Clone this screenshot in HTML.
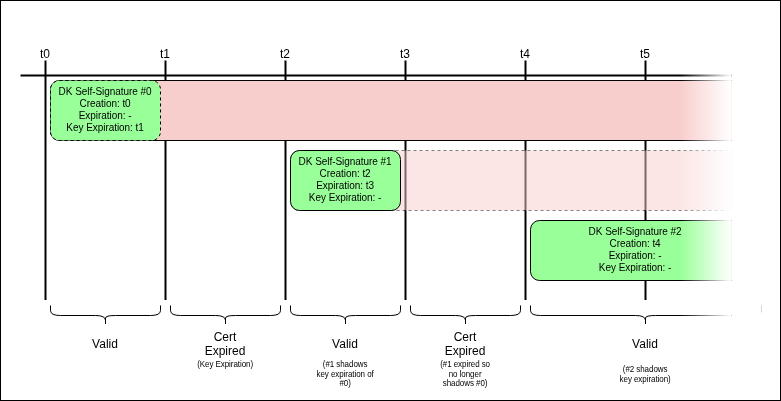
<!DOCTYPE html>
<html>
<head>
<meta charset="utf-8">
<title>DK Self-Signature timeline</title>
<style>
html,body{margin:0;padding:0;background:#fff;}
body{width:781px;height:401px;overflow:hidden;position:relative;}
svg{position:absolute;left:0;top:0;display:block;will-change:transform;}
text{font-family:"Liberation Sans",Arial,Helvetica,sans-serif;fill:#000;text-anchor:middle;}
.t12{font-size:12px;}
.t10{font-size:10px;letter-spacing:-0.05px;}
.t8{font-size:8px;letter-spacing:-0.06px;}
</style>
</head>
<body>
<svg width="781" height="401" viewBox="0 0 781 401">
<defs>
<linearGradient id="fade" x1="0" y1="0" x2="1" y2="0">
<stop offset="0" stop-color="#ffffff" stop-opacity="0"/>
<stop offset="1" stop-color="#ffffff" stop-opacity="1"/>
</linearGradient>
</defs>
<rect x="0" y="0" width="781" height="401" fill="#ffffff"/>

<!-- vertical time lines -->
<g stroke="#000" stroke-width="2" fill="none">
<path d="M45.5,60.5V300"/>
<path d="M165.5,60.5V300"/>
<path d="M285.5,60.5V300"/>
<path d="M405.5,60.5V300"/>
<path d="M525.5,60.5V300"/>
<path d="M645.5,60.5V300"/>
<path d="M20.5,75.5H760"/>
</g>

<!-- band 0 -->
<rect x="50.5" y="80.5" width="690" height="60" rx="9" ry="9" fill="#f8cecc" stroke="#000" stroke-width="1"/>
<!-- band 1 -->
<rect x="290.5" y="150.5" width="450" height="60" rx="9" ry="9" fill="#f8cecc" stroke="#000" stroke-width="1" stroke-dasharray="3 3" opacity="0.5"/>

<!-- boxes -->
<rect x="50.5" y="80.5" width="110" height="60" rx="9" ry="9" fill="#99ff99" stroke="#000" stroke-width="1" stroke-dasharray="3 3"/>
<rect x="290.5" y="150.5" width="110" height="60" rx="9" ry="9" fill="#99ff99" stroke="#000" stroke-width="1"/>
<rect x="530.5" y="220.5" width="210" height="60" rx="9" ry="9" fill="#99ff99" stroke="#000" stroke-width="1"/>

<!-- brackets -->
<g stroke="#000" stroke-width="1" fill="none">
<path d="M50.5,305.5 L50.5,310.5 Q50.5,315.5 60.5,315.5 L95.5,315.5 Q105.5,315.5 105.5,320.5 L105.5,323 Q105.5,325.5 105.5,320.5 L105.5,318 Q105.5,315.5 115.5,315.5 L150.5,315.5 Q160.5,315.5 160.5,310.5 L160.5,305.5"/>
<path d="M170.5,305.5 L170.5,310.5 Q170.5,315.5 180.5,315.5 L215.5,315.5 Q225.5,315.5 225.5,320.5 L225.5,323 Q225.5,325.5 225.5,320.5 L225.5,318 Q225.5,315.5 235.5,315.5 L270.5,315.5 Q280.5,315.5 280.5,310.5 L280.5,305.5"/>
<path d="M290.5,305.5 L290.5,310.5 Q290.5,315.5 300.5,315.5 L335.5,315.5 Q345.5,315.5 345.5,320.5 L345.5,323 Q345.5,325.5 345.5,320.5 L345.5,318 Q345.5,315.5 355.5,315.5 L390.5,315.5 Q400.5,315.5 400.5,310.5 L400.5,305.5"/>
<path d="M410.5,305.5 L410.5,310.5 Q410.5,315.5 420.5,315.5 L455.5,315.5 Q465.5,315.5 465.5,320.5 L465.5,323 Q465.5,325.5 465.5,320.5 L465.5,318 Q465.5,315.5 475.5,315.5 L510.5,315.5 Q520.5,315.5 520.5,310.5 L520.5,305.5"/>
<path d="M530.5,305.5 L530.5,310.5 Q530.5,315.5 540.5,315.5 L635.5,315.5 Q645.5,315.5 645.5,320.5 L645.5,323 Q645.5,325.5 645.5,320.5 L645.5,318 Q645.5,315.5 655.5,315.5 L750.5,315.5 Q760.5,315.5 760.5,310.5 L760.5,305.5"/>
</g>

<!-- box text -->
<g class="t10">
<text x="105.1" y="94.5">DK Self-Signature #0</text>
<text x="105.1" y="106.5">Creation: t0</text>
<text x="105.1" y="118.5">Expiration: -</text>
<text x="105.1" y="130.5">Key Expiration: t1</text>

<text x="345.1" y="164.5">DK Self-Signature #1</text>
<text x="345.1" y="176.5">Creation: t2</text>
<text x="345.1" y="188.5">Expiration: t3</text>
<text x="345.1" y="200.5">Key Expiration: -</text>

<text x="635.1" y="234.5">DK Self-Signature #2</text>
<text x="635.1" y="246.5">Creation: t4</text>
<text x="635.1" y="258.5">Expiration: -</text>
<text x="635.1" y="270.5">Key Expiration: -</text>
</g>

<!-- fade overlay -->
<rect x="680" y="40" width="51" height="300" fill="url(#fade)"/>
<rect x="731.25" y="40" width="30.75" height="300" fill="#ffffff"/>
<rect x="761" y="305.5" width="1" height="7" fill="#d6d6d6"/>

<!-- time labels -->
<g class="t12">
<text x="44.9" y="57.6">t0</text>
<text x="164.9" y="57.6">t1</text>
<text x="284.9" y="57.6">t2</text>
<text x="404.9" y="57.6">t3</text>
<text x="524.9" y="57.6">t4</text>
<text x="644.9" y="57.6">t5</text>
</g>

<!-- bottom labels -->
<g class="t12">
<text x="105" y="348">Valid</text>
<text x="225" y="341">Cert</text>
<text x="225" y="355.4">Expired</text>
<text x="345" y="348">Valid</text>
<text x="465" y="341">Cert</text>
<text x="465" y="355.4">Expired</text>
<text x="645" y="348">Valid</text>
</g>
<g class="t8">
<text transform="translate(225.1 367) scale(1 1.12)">(Key Expiration)</text>
<text transform="translate(345.1 367) scale(1 1.12)">(#1 shadows</text>
<text transform="translate(345.1 376.6) scale(1 1.12)">key expiration of</text>
<text transform="translate(345.1 386.2) scale(1 1.12)">#0)</text>
<text transform="translate(465.1 367) scale(1 1.12)">(#1 expired so</text>
<text transform="translate(465.1 376.6) scale(1 1.12)">no longer</text>
<text transform="translate(465.1 386.2) scale(1 1.12)">shadows #0)</text>
<text transform="translate(645.1 372) scale(1 1.12)">(#2 shadows</text>
<text transform="translate(645.1 381.6) scale(1 1.12)">key expiration)</text>
</g>

<!-- outer border -->
<rect x="0.5" y="0.5" width="780" height="400" fill="none" stroke="#000" stroke-width="1"/>
</svg>
</body>
</html>
